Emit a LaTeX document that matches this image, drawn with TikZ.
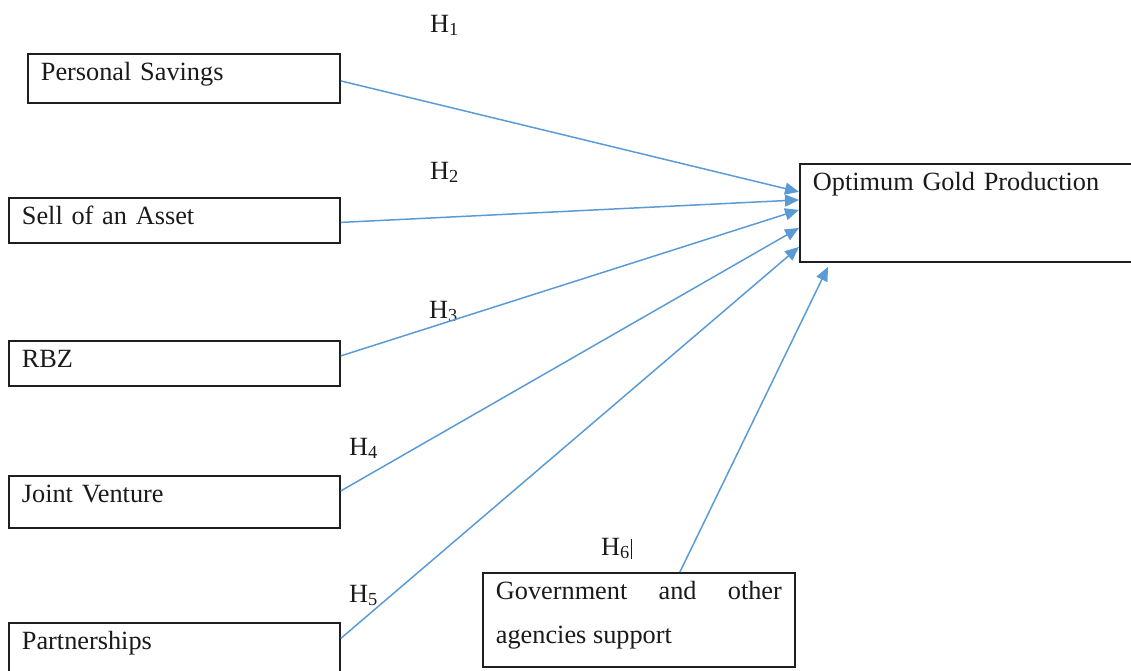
\documentclass[tikz,border=0pt]{standalone}
\usepackage{fontspec}
\setmainfont{Liberation Serif}
\usepackage{xcolor}
\definecolor{arrowBlue}{HTML}{5B9BD5}
\definecolor{boxLine}{HTML}{1F1F1F}
\definecolor{darkText}{HTML}{1A1A1A}
\usetikzlibrary{
    arrows.meta,
    positioning
}
\tikzset{
    % Base style for all boxes
    box base/.style={
        draw=boxLine,
        line width=1.8pt,
        anchor=north west,
        align=left,
        text=darkText,
        inner xsep=13pt,
        inner ysep=0pt,
        text height=27pt,
    },
    % Source boxes on the left
    factor/.style={
        box base,
        text width=305pt,
    },
    % Outcome box on the right
    outcome/.style={
        box base,
        text width=315pt,
        text depth=71pt,
    },
    % Support box at the bottom - justified text, two lines
    support/.style={
        box base,
        align=justify,
        text width=286pt,
        text depth=67pt,
    },
    % Arrow style - thin blue with filled head
    arrow/.style={
        -{Triangle[length=14pt, width=12pt]},
        line width=1.5pt,
        draw=arrowBlue,
    },
    % Hypothesis labels
    hyp/.style={
        anchor=base west,
        inner sep=0pt,
        text=darkText,
    },
}

\begin{document}
\begin{tikzpicture}[x=1pt, y=-1pt, font=\rmfamily\fontsize{26.3pt}{44pt}\selectfont]
    \useasboundingbox (0,0) rectangle (1131,670);

    \node (savings) [factor, text width=286pt, text depth=22pt] at (27,53) {Personal Savings};
    \node (asset) [factor, text depth=18pt] at (8,197) {Sell of an Asset};
    \node (rbz) [factor, text depth=18pt] at (8,340) {RBZ};
    \node (venture) [factor, text depth=25pt] at (8,475) {Joint Venture};
    \node (partners) [factor, text depth=34pt] at (8,622) {Partnerships};
    \node (gold) [outcome] at (799,163) {Optimum Gold Production};
    \node (govt) [support] at (482,572) {Government and other agencies support};

    \node (h1) [hyp] at (430,32) {H\textsubscript{1}};
    \node (h2) [hyp] at (430,179) {H\textsubscript{2}};
    \node (h3) [hyp] at (429,318) {H\textsubscript{3}};
    \node (h4) [hyp] at (349,455) {H\textsubscript{4}};
    \node (h5) [hyp] at (349,602) {H\textsubscript{5}};
    \node (h6) [hyp] at (601,555) {H\textsubscript{6}\kern1pt\rule[-4pt]{0.8pt}{20pt}};

    \draw [arrow] ([yshift=-2.5pt]savings.east) -- ([yshift=21pt]gold.west);
    \draw [arrow] ([yshift=-2pt]asset.east) -- ([yshift=13pt]gold.west);
    \draw [arrow] ([yshift=7.5pt]rbz.east) -- ([yshift=3pt]gold.west);
    \draw [arrow] ([yshift=11pt]venture.east) -- ([yshift=-15pt]gold.west);
    \draw [arrow] ([yshift=15pt]partners.east) -- ([yshift=-34pt]gold.west);
    \draw [arrow] ([xshift=41pt]govt.north) -- ([xshift=29pt, yshift=-4pt]gold.south west);
\end{tikzpicture}
\end{document}
